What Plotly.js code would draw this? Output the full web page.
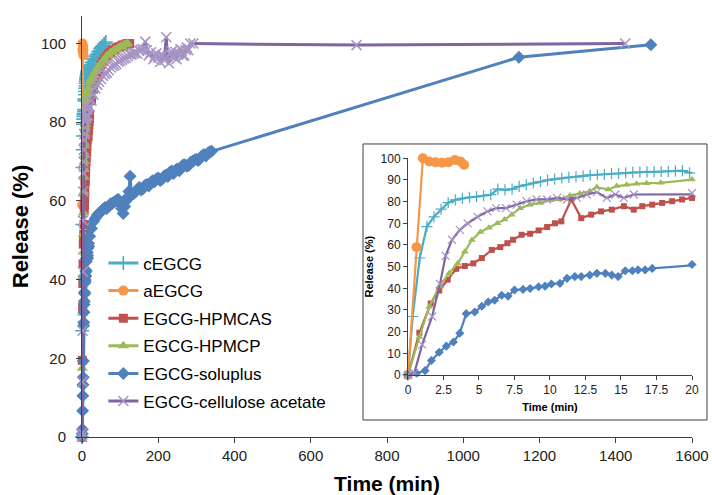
<!DOCTYPE html>
<html>
<head>
<meta charset="utf-8">
<script src="https://cdn.plot.ly/plotly-3.0.1.min.js"></script>
<style>
  html, body { margin: 0; padding: 0; background: #fff; }
  #chart { width: 712px; height: 495px; }
</style>
</head>
<body>
<div id="chart"></div>
<script>
// Release profiles: time (min) and cumulative release (%) per formulation
const tC = [0,0.33,0.83,1.33,1.83,2.33,2.83,3.33,3.83,4.33,4.83,5.33,5.83,6.33,6.83,7.33,7.83,8.33,8.83,9.33,9.83,10.33,10.83,11.33,11.83,12.33,12.83,13.33,13.83,14.33,14.83,15.33,15.83,16.33,16.83,17.33,17.83,18.33,18.83,19.33,19.83,22.5,25,27.5,30,32.5,35,37.5,40,42.5,45,47.5,50,52.5,55,57.5,60,62.5];
const yC = [0,27,54,68.5,73,76.5,79.5,80.8,81.5,82,82.3,82.8,83.2,85.8,85.4,85.8,87,87.8,88.6,89.2,89.9,90.4,90.8,91.2,91.4,91.8,92.2,92.4,92.6,92.9,93.1,93.3,93.5,93.6,93.7,93.7,93.8,94,94.1,94.3,93.3,94.6,95.1,95.3,95.9,96.2,96.7,97.1,97.3,97.9,98.1,98.7,98.9,99.3,99.4,99.9,100,100.4];

const tA = [0,0.6,1.05,1.5,1.95,2.4,2.85,3.3,3.7,3.95];
const yA = [0,59,100,98.5,98.2,98,98.2,99.2,98.5,97];

const tH = [0,0.8,1.6,2.2,2.8,3.4,4.0,4.6,5.2,5.9,6.5,7.0,7.4,8.0,8.6,9.2,9.8,10.35,10.8,11.5,12.2,12.9,13.6,14.35,15.2,15.9,16.5,17.2,17.9,18.6,19.3,20,25,30,35,40,45,50,55,60,65,70,75,80,85,90,95,100,105,110,115,120,125];
const yH = [0,19.5,33,39,44,49,50.3,51.5,54,57.7,59,60.8,62.4,64.7,65.2,66.7,68.3,70,70.9,81,72.4,74,75.5,76.3,77.9,76.3,77.9,78.6,79.4,80.2,81,81.7,85.5,88.4,90.6,92.1,93.3,94.6,95.4,96.1,96.7,97.4,97.7,98.3,98.4,98.9,99.1,99.2,99.6,99.6,99.9,100,100];

const tP = [0,0.8,1.5,2.2,2.9,3.5,4.0,4.5,5.1,5.7,6.3,6.8,7.3,7.9,8.6,9.3,10.0,10.7,11.4,12.1,12.8,13.3,14.1,14.7,15.4,16.1,16.8,17.8,20,25,30,35,40,45,50,55,60,65,70,75,80,85,90,95,100,105,110,115,120];
const yP = [0,17.5,31.5,40.8,47,51.5,56.9,62.3,66,68,70,71.7,74,77,78.6,79.4,80.6,81,82.8,83.7,84.8,86.7,85.6,87.2,87.8,88.2,88.5,88.7,90.2,91.1,91.9,92.9,93.4,94.3,94.9,95.7,96.1,96.9,97.1,97.7,97.9,98.4,98.5,98.9,99.2,99.3,99.7,99.8,100];

const tS = [0,0.6,1.2,1.65,2.2,2.7,3.2,3.65,4.1,4.7,5.2,5.65,6.1,6.6,7.05,7.5,8.1,8.6,9.2,9.65,10.1,10.7,11.2,11.75,12.2,12.8,13.3,13.9,14.35,14.8,15.3,15.8,16.2,16.7,17.2,20,25,30,35,40,45,50,55,60,65,70,75,80,85,90,95,100,104,108,112,115,120,123,126,130,135,140,145,150,155,160,165,170,175,180,185,190,195,200,205,210,215,220,225,230,235,240,245,250,255,260,265,270,275,280,285,290,295,300,305,310,315,320,325,330,335,340,1146,1492];
const yS = [0,0.8,2,6.7,10.5,13.3,15.2,19.3,28.3,29.1,31.7,33.7,34.5,36.8,36.4,39.2,39.5,39.9,40.7,41,42,42.3,44.6,45.4,45.4,46.1,46.9,46.9,46.1,45.4,48.1,48.1,48.5,48.5,49.2,51,53,54.8,55.6,56.4,56.9,57.2,57.9,58.3,58.1,58.6,59.3,59.4,59.8,60.1,60.4,59.2,58.1,56.8,58.6,60,61,62.4,66.3,61.5,61.8,62.3,62.9,63.4,62.8,63.1,63.9,64.2,63.8,64.6,65.1,64.9,65.6,65.8,65.2,65.5,66.3,66.6,66.2,67.2,67.6,67,67.8,68.1,67.7,68.4,69.1,69.2,68.8,69,69.8,70.1,70.4,70.6,70.3,70.9,71.5,71.8,71.4,72.1,72.5,72.6,96.5,99.7];

const tE = [0,0.45,1.0,1.7,2.25,2.65,3.1,3.65,4.2,4.9,5.6,6.2,6.9,7.65,8.35,9.05,9.8,10.5,11.2,11.9,12.6,13.3,14.0,14.6,15.2,15.9,20,25,30,35,40,45,50,55,60,65,70,75,80,85,90,95,100,105,110,115,120,125,130,135,140,145,150,155,160,166,170,175,181,187,191,195,200,205,209,212,216,221,224,228,231,235,238,242,245,248,252,255,258,262,265,268,272,275,279,284,292,720,1425];
const yE = [0,1,14,27,42,55,62.4,67,70,73,75.5,77,77,78.6,80.2,81,81,81.7,81,81.7,83.3,84.4,81.7,83.3,81.7,83.3,84,85.5,87,88.6,89.5,90.3,91,91.8,92.3,92.6,93.2,93.9,94.3,94.5,94.8,95.4,95.6,95.9,96.2,96.4,96.8,97.3,97.2,97.5,97.7,97.4,98.2,98.4,98.6,100.5,98.3,97,97.8,96,96.8,97.5,96.4,95.3,96.9,97,95.8,101.6,96.7,95,97.3,98,96.8,96.5,97.9,96,97.2,97.5,98.6,98.2,96.9,97,98.4,99,98.3,100,100,99.6,100];

const names = ['cEGCG','aEGCG','EGCG-HPMCAS','EGCG-HPMCP','EGCG-soluplus','EGCG-cellulose acetate'];
const times = [tC, tA, tH, tP, tS, tE];
const values = [yC, yA, yH, yP, yS, yE];

// Per-series appearance: colour, marker symbol, marker sizes for the main plot and the inset
const looks = [
  {color:'#4BACC6', symbol:'cross-thin', edge:'#4BACC6', sMain:10, sIn:8},
  {color:'#F79646', symbol:'circle', edge:'#F79646', sMain:10, sIn:10},
  {color:'#C0504D', symbol:'square', edge:'#C0504D', sMain:9, sIn:6},
  {color:'#9BBB59', symbol:'triangle-up', edge:'#9BBB59', sMain:10, sIn:7},
  {color:'#4F81BD', symbol:'diamond', edge:'#4F81BD', sMain:10, sIn:7},
  {color:'#8064A2', symbol:'x-thin', edge:'#A795C4', sMain:10, sIn:8}
];

const traces = [];
names.forEach((name, i) => {
  const lk = looks[i];
  const thin = lk.symbol.endsWith('-thin');
  traces.push({
    type:'scatter', mode:'lines+markers', name:name, legendgroup:name,
    x:times[i], y:values[i], xaxis:'x', yaxis:'y', cliponaxis:false,
    line:{color:lk.color, width:3},
    marker:{symbol:lk.symbol, size:lk.sMain, color:lk.color,
            line:{color:lk.edge, width: thin ? 1.6 : 0}}
  });
});
names.forEach((name, i) => {
  const lk = looks[i];
  const thin = lk.symbol.endsWith('-thin');
  traces.push({
    type:'scatter', mode:'lines+markers', name:name, legendgroup:name, showlegend:false,
    x:times[i], y:values[i], xaxis:'x2', yaxis:'y2', cliponaxis:false,
    line:{color:lk.color, width:2.2},
    marker:{symbol:lk.symbol, size:lk.sIn, color:lk.color,
            line:{color:lk.edge, width: thin ? 1.2 : 0}}
  });
});

const axisCommon = {
  showline:true, linecolor:'#404040', linewidth:1, ticks:'outside', tickcolor:'#404040',
  showgrid:false, zeroline:false
};

const layout = {
  width:712, height:495,
  margin:{l:82, r:20, t:16, b:58},
  paper_bgcolor:'#ffffff', plot_bgcolor:'rgba(0,0,0,0)',
  font:{family:'"Liberation Sans", Arial, sans-serif', color:'#000'},
  showlegend:true,
  legend:{x:0.035, y:0.455, xanchor:'left', yanchor:'top', bgcolor:'rgba(0,0,0,0)',
          font:{size:17, color:'#000'}, tracegroupgap:2.5, traceorder:'grouped'},
  xaxis:Object.assign({}, axisCommon, {
    range:[0,1600], tick0:0, dtick:200, ticklen:5, tickfont:{size:15, color:'#222'},
    title:{text:'<b>Time (min)</b>', font:{size:21, color:'#000'}, standoff:14}
  }),
  yaxis:Object.assign({}, axisCommon, {
    range:[0,107], tickvals:[0,20,40,60,80,100], ticklen:5, tickfont:{size:15, color:'#222'},
    ticklabelstandoff:7,
    title:{text:'<b>Release (%)</b>', font:{size:22, color:'#000'}, standoff:6}
  }),
  xaxis2:Object.assign({}, axisCommon, {
    domain:[0.5344, 1], anchor:'y2', range:[0,20], tick0:0, dtick:2.5, ticklen:4,
    tickfont:{size:12, color:'#222'},
    title:{text:'<b>Time (min)</b>', font:{size:11, color:'#000'}, standoff:6}
  }),
  yaxis2:Object.assign({}, axisCommon, {
    domain:[0.1473, 0.662], anchor:'x2', range:[0,100], tick0:0, dtick:10, ticklen:4,
    tickfont:{size:12, color:'#222'},
    title:{text:'<b>Release (%)</b>', font:{size:11, color:'#000'}, standoff:4}
  }),
  shapes:[{
    type:'rect', xref:'paper', yref:'paper', x0:0.4607, x1:1.0246, y0:0.0404, y1:0.696,
    line:{color:'#404040', width:1}, fillcolor:'#ffffff', layer:'below'
  }]
};

Plotly.newPlot('chart', traces, layout, {displayModeBar:false, staticPlot:true});
</script>
</body>
</html>
